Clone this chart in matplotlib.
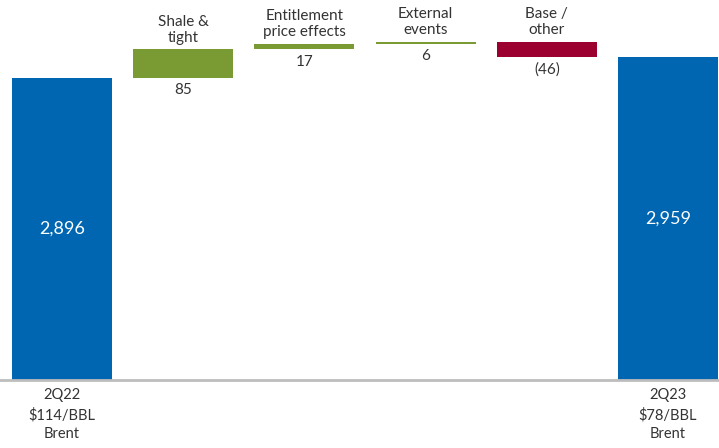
import matplotlib.pyplot as plt
import numpy as np

plt.rcParams['font.family'] = ['Lato', 'DejaVu Sans']

# Daten
top_labels = ["", "Shale &\ntight", "Entitlement\nprice effects", "External\nevents", "Base /\nother", ""]
bottom_labels = ["2Q22\n$114/BBL\nBrent", "", "", "", "", "2Q23\n$78/BBL\nBrent"]
start_value = 2896
deltas = [85, 17, 6, -46]
end_value = 2959
delta_texts = ["85", "17", "6", "(46)"]

blue = "#0066b2"
green = "#7a9a34"
red = "#9b0030"
text_col = "#333333"

fig = plt.figure(figsize=(7.19, 4.48), dpi=100)
ax = fig.add_axes([0, 68 / 448, 1, 380 / 448])

y_min = 1988
width = 0.825

# Slupki poczatkowy i koncowy
ax.bar(0, start_value - y_min, bottom=y_min, width=width, color=blue)
ax.bar(5, end_value - y_min, bottom=y_min, width=width, color=blue)
ax.text(0, (start_value + y_min) / 2, f"{start_value:,}", ha='center', va='center',
        color='white', fontsize=13)
ax.text(5, (end_value + y_min) / 2, f"{end_value:,}", ha='center', va='center',
        color='white', fontsize=13)

# Zmiany
cum = start_value
for i, d in enumerate(deltas):
    x = i + 1
    lo = min(cum, cum + d)
    hi = max(cum, cum + d)
    ax.bar(x, hi - lo, bottom=lo, width=width, color=green if d > 0 else red)
    ax.annotate(delta_texts[i], (x, lo), xytext=(0, -4), textcoords='offset points',
                ha='center', va='top', fontsize=11, color=text_col)
    ax.annotate(top_labels[x], (x, hi), xytext=(0, 3), textcoords='offset points',
                ha='center', va='bottom', fontsize=11, color=text_col,
                linespacing=1.2)
    cum += d

# Podpisy pod osia
for x in [0, 5]:
    ax.annotate(bottom_labels[x], (x, y_min), xytext=(0, -6), textcoords='offset points',
                ha='center', va='top', fontsize=10.5, color=text_col,
                linespacing=1.45)

ax.set_xlim(-0.51, 5.42)
ax.set_ylim(y_min, 3129)
for s in ['top', 'left', 'right']:
    ax.spines[s].set_visible(False)
ax.spines['bottom'].set_color('#bdbdbd')
ax.spines['bottom'].set_linewidth(2.0)
ax.set_xticks([])
ax.set_yticks([])

fig.savefig("out.png", dpi=100)
